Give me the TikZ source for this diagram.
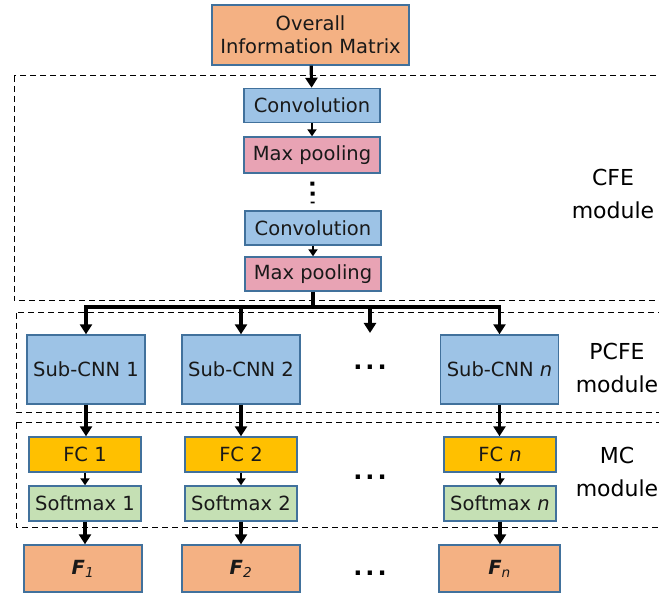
\documentclass[tikz,border=0pt]{standalone}
\usepackage{fontspec}
\setmainfont{DejaVu Sans}
\usepackage{tikz}
\usetikzlibrary{positioning}
\usetikzlibrary{arrows.meta}

\definecolor{boxedge}{HTML}{41719C}
\definecolor{inorange}{HTML}{F4B183}
\definecolor{convblue}{HTML}{9DC3E6}
\definecolor{poolpink}{HTML}{E8A3B4}
\definecolor{fcgold}{HTML}{FFC000}
\definecolor{smgreen}{HTML}{C5E0B4}

\tikzset{
  block/.style={draw=boxedge, line width=1.4pt, inner sep=0pt, text=black!90,
                font=\fontsize{19.5}{23}\selectfont, align=center},
  flow/.style={line width=3.2pt, -{Triangle[width=12pt,length=10pt]}},
  thinflow/.style={line width=2.2pt, -{Triangle[width=9pt,length=7pt]}},
  modbox/.style={line width=1pt, dash pattern=on 6pt off 4pt},
  modlabel/.style={font=\fontsize{22}{33}\selectfont, align=center},
  gap/.style={font=\fontsize{24}{24}\selectfont\bfseries}
}

\begin{document}
\begin{tikzpicture}[x=1pt,y=-1pt]
  \useasboundingbox (0,0) rectangle (659,593);

  % Module frames
  \draw[modbox] (14,76) rectangle (680,301);
  \draw[modbox] (16,313) rectangle (680,413);
  \draw[modbox] (16,423) rectangle (680,527);

  % Input
  \node[block, fill=inorange, minimum width=197pt, minimum height=60pt] (omat) at (310.5,35)
    {Overall\\Information Matrix};

  % CFE stack
  \node[block, fill=convblue, minimum width=136pt, minimum height=34pt] (conv1) at (312,105.5) {Convolution};
  \node[block, fill=poolpink, minimum width=136pt, minimum height=36pt] (mp1) at (312,155) {Max pooling};
  \node[block, fill=convblue, minimum width=136pt, minimum height=34pt] (conv2) at (313,228) {Convolution};
  \node[block, fill=poolpink, minimum width=136pt, minimum height=34pt] (mp2) at (313,274) {Max pooling};

  % Sub-CNNs
  \node[block, fill=convblue, minimum width=118pt, minimum height=69pt] (sub1) at (86,369.5) {Sub-CNN 1};
  \node[block, fill=convblue, minimum width=118pt, minimum height=69pt] (sub2) at (241,369.5) {Sub-CNN 2};
  \node[block, fill=convblue, minimum width=118pt, minimum height=69pt] (subn) at (499.5,369.5) {Sub-CNN \textit{n}};

  % FC layers
  \node[block, fill=fcgold, minimum width=112pt, minimum height=35pt] (fc1) at (85,454.5) {FC 1};
  \node[block, fill=fcgold, minimum width=112pt, minimum height=35pt] (fc2) at (241,454.5) {FC 2};
  \node[block, fill=fcgold, minimum width=112pt, minimum height=35pt] (fcn) at (500,454.5) {FC \textit{n}};

  % Softmax layers
  \node[block, fill=smgreen, minimum width=112pt, minimum height=35pt] (sm1) at (85,503.5) {Softmax 1};
  \node[block, fill=smgreen, minimum width=112pt, minimum height=35pt] (sm2) at (241,503.5) {Softmax 2};
  \node[block, fill=smgreen, minimum width=112pt, minimum height=35pt] (smn) at (500,503.5) {Softmax \textit{n}};

  % Outputs
  \node[block, fill=inorange, minimum width=118pt, minimum height=47pt] (f1) at (83,568.5)
    {{\bfseries\itshape F}\textsubscript{\itshape 1}};
  \node[block, fill=inorange, minimum width=118pt, minimum height=47pt] (f2) at (241,568.5)
    {{\bfseries\itshape F}\textsubscript{\itshape 2}};
  \node[block, fill=inorange, minimum width=121pt, minimum height=47pt] (fn) at (499.5,568.5)
    {{\bfseries\itshape F}\textsubscript{\itshape n}};

  % Gaps
  \node[gap] (gapsub) at (370,367) {.\kern3pt.\kern3pt.};
  \node[gap] (gapfc) at (370,477) {.\kern3pt.\kern3pt.};
  \node[gap] (gapf) at (370,573) {.\kern3pt.\kern3pt.};

  % Module labels
  \node[modlabel] (cfelabel) at (613,194) {CFE\\module};
  \node[modlabel] (pcfelabel) at (617,368) {PCFE\\module};
  \node[modlabel] (mclabel) at (617,472) {MC\\module};

  % CFE connectors
  \draw[flow] (omat) -- (conv1);
  \draw[thinflow] (conv1) -- (mp1);
  \draw[line width=4pt, dash pattern=on 4pt off 6pt, shorten <=8pt, shorten >=7pt] (mp1) -- (conv2);
  \draw[thinflow] (conv2) -- (mp2);

  % Branching bus
  \coordinate (bus) at (313,307);
  \coordinate (gaptop) at (370,333);
  \draw[line width=3.2pt] (mp2) -- (bus);
  \draw[flow] (bus) -| (sub1);
  \draw[flow] (bus) -| (sub2);
  \draw[flow] (bus) -| (gaptop);
  \draw[flow] (bus) -| (subn);

  % Column connectors
  \draw[flow] (sub1) -- (sub1 |- fc1.north);
  \draw[flow] (sub2) -- (sub2 |- fc2.north);
  \draw[flow] (subn) -- (subn |- fcn.north);
  \draw[thinflow] (fc1) -- (sm1);
  \draw[thinflow] (fc2) -- (sm2);
  \draw[thinflow] (fcn) -- (smn);
  \draw[flow] (sm1) -- (sm1 |- f1.north);
  \draw[flow] (sm2) -- (f2);
  \draw[flow] (smn) -- (smn |- fn.north);
\end{tikzpicture}
\end{document}
